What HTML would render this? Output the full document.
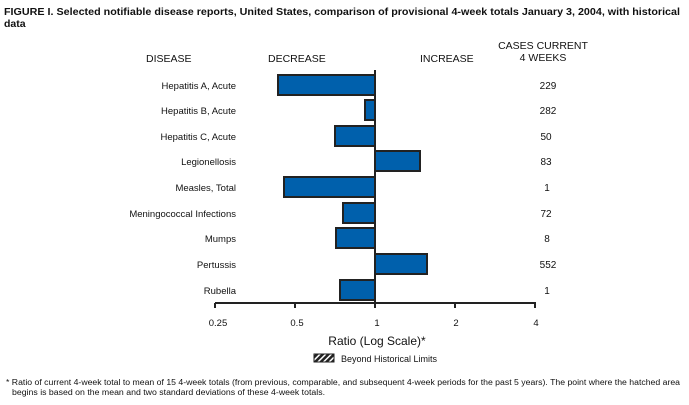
<!DOCTYPE html><html><head><style>body{margin:0;background:#fff}svg{display:block}text{font-family:"Liberation Sans",Arial,sans-serif;fill:#111}</style></head><body>
<svg width="689" height="405" xmlns="http://www.w3.org/2000/svg">
<defs><pattern id="h" width="4" height="4" patternUnits="userSpaceOnUse" patternTransform="rotate(45)"><rect width="4" height="4" fill="#222"/><rect width="1.5" height="4" fill="#fff"/></pattern></defs>
<text x="4" y="15" font-size="10.5" font-weight="bold" textLength="676" lengthAdjust="spacingAndGlyphs">FIGURE I. Selected notifiable disease reports, United States, comparison of provisional 4-week totals January 3, 2004, with historical</text>
<text x="4" y="27" font-size="10.5" font-weight="bold">data</text>
<g font-size="10.5"><text x="146" y="62">DISEASE</text><text x="268" y="62">DECREASE</text><text x="420" y="62">INCREASE</text><text x="543" y="49" text-anchor="middle">CASES CURRENT</text><text x="543" y="61" text-anchor="middle">4 WEEKS</text></g>
<g font-size="9.5" text-anchor="end">
<text x="236" y="89">Hepatitis A, Acute</text><text x="236" y="114">Hepatitis B, Acute</text><text x="236" y="140">Hepatitis C, Acute</text><text x="236" y="165">Legionellosis</text><text x="236" y="191">Measles, Total</text><text x="236" y="217">Meningococcal Infections</text><text x="236" y="242">Mumps</text><text x="236" y="268">Pertussis</text><text x="236" y="294">Rubella</text></g>
<g font-size="10" text-anchor="middle"><text x="548" y="89">229</text><text x="548" y="114">282</text><text x="546" y="140">50</text><text x="546" y="165">83</text><text x="547" y="191">1</text><text x="546" y="217">72</text><text x="547" y="242">8</text><text x="548" y="268">552</text><text x="547" y="294">1</text></g>
<g fill="#0060ac" stroke="#222" stroke-width="2">
<rect x="278" y="75" width="97" height="20"/><rect x="365" y="100" width="10" height="20"/><rect x="335" y="126" width="40" height="20"/><rect x="375" y="151" width="45" height="20"/><rect x="284" y="177" width="91" height="20"/><rect x="343" y="203" width="32" height="20"/><rect x="336" y="228" width="39" height="20"/><rect x="375" y="254" width="52" height="20"/><rect x="340" y="280" width="35" height="20"/></g>
<line x1="375" y1="70" x2="375" y2="303" stroke="#222" stroke-width="2"/>
<line x1="215" y1="303" x2="536" y2="303" stroke="#222" stroke-width="2"/>
<g stroke="#222" stroke-width="2"><line x1="215" y1="303" x2="215" y2="308"/><line x1="295" y1="303" x2="295" y2="308"/><line x1="375" y1="303" x2="375" y2="308"/><line x1="455" y1="303" x2="455" y2="308"/><line x1="535" y1="303" x2="535" y2="308"/></g>
<g font-size="9.5" text-anchor="middle"><text x="218" y="326">0.25</text><text x="297" y="326">0.5</text><text x="377" y="326">1</text><text x="456" y="326">2</text><text x="536" y="326">4</text></g>
<text x="377" y="345" font-size="12" text-anchor="middle">Ratio (Log Scale)*</text>
<rect x="314" y="354" width="20" height="8" fill="url(#h)" stroke="#222"/>
<text x="341" y="362" font-size="9">Beyond Historical Limits</text>
<text x="6" y="385" font-size="8" textLength="674" lengthAdjust="spacingAndGlyphs">* Ratio of current 4-week total to mean of 15 4-week totals (from previous, comparable, and subsequent 4-week periods for the past 5 years). The point where the hatched area</text>
<text x="12" y="395" font-size="8" textLength="313" lengthAdjust="spacingAndGlyphs">begins is based on the mean and two standard deviations of these 4-week totals.</text>
</svg></body></html>
